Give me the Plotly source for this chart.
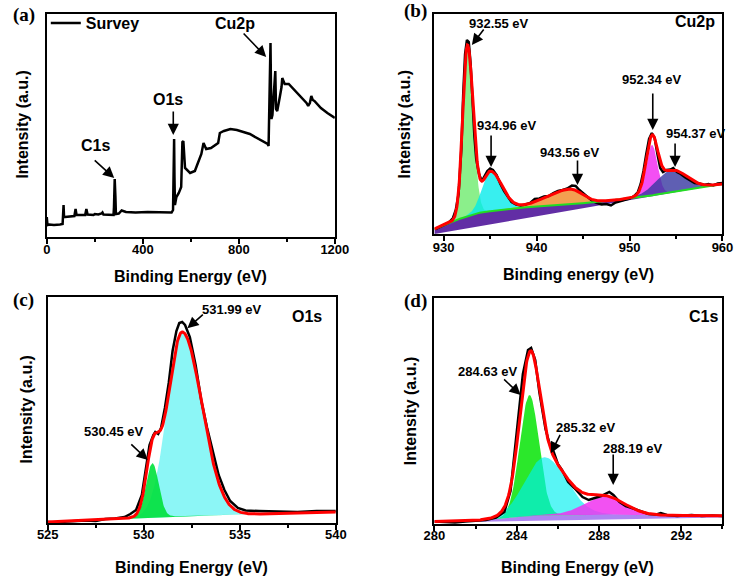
import numpy as np
import plotly.graph_objects as go

FONT = "Liberation Sans, Arial, Helvetica, sans-serif"
SERIF = "Liberation Serif, Times New Roman, serif"

# ---------------- (a) Survey spectrum ----------------
survey_ev = [0, 3, 10, 30, 55, 66, 70, 72, 76, 100, 115, 120, 124, 160, 165, 170, 195, 200,
             215, 228, 232, 236, 260, 278, 280, 283, 286, 288, 300, 312, 330, 370, 420, 470,
             520, 526, 529, 530.5, 532, 534, 540, 550, 560, 565, 569, 573, 576, 597, 617,
             628, 634, 644, 653, 664, 684, 705, 714, 721, 738, 765, 792, 846, 886, 920, 924,
             927, 929, 932, 934, 936, 940, 945, 950, 952, 955, 960, 970, 978, 981, 991, 1008,
             1035, 1062, 1082, 1089, 1096, 1102, 1108, 1115, 1142, 1169, 1200]
survey_int = [20, 12, 12.5, 12, 12.5, 13, 32, 20, 20, 20.5, 21, 28, 22, 22, 28, 22.5, 22, 23,
              22.5, 23.5, 24.5, 22.5, 22.5, 22, 30, 58, 40, 23, 23.5, 26.5, 25, 24.5, 25, 24.5,
              24.5, 27, 60, 98, 60, 32, 40, 44, 50, 95, 96, 70, 69, 64, 66,
              73, 77, 83, 94, 88, 89, 93, 94, 104, 106, 108, 107, 103, 98, 93, 91,
              130, 170, 194, 150, 118, 122, 140, 160, 166, 128, 126, 139, 150, 159, 153, 153,
              146, 139, 134, 131, 134, 141, 137, 136, 129, 124, 119]

# ---------------- (b) Cu2p ----------------
cu_raw_ev = [929.1, 929.5, 930, 930.5, 931, 931.3, 931.6, 931.9, 932.1, 932.3, 932.5, 932.7,
             932.9, 933.1, 933.3, 933.5, 933.8, 934.1, 934.4, 934.7, 935.0, 935.3, 935.7,
             936.1, 936.5, 936.9, 937.3, 937.8, 938.3, 938.8, 939.3, 939.8, 940.3, 940.8,
             941.3, 941.8, 942.3, 942.8, 943.3, 943.8, 944.2, 944.6, 945.0, 945.5, 946.0,
             946.5, 947.0, 947.5, 948.0, 948.5, 949.0, 949.5, 950.0, 950.5, 950.9, 951.2,
             951.5, 951.8, 952.1, 952.4, 952.7, 953.0, 953.3, 953.6, 954.0, 954.4, 954.7,
             955.1, 955.5, 956.0, 956.5, 957.0, 957.5, 958.0, 958.5, 959.0, 959.5, 960.0]
cu_raw_int = [5, 6.5, 8.5, 11, 16, 24, 40, 85, 140, 180, 194, 192,
              170, 130, 98, 75, 60, 53, 58, 63, 65.5, 64, 59,
              50, 43, 37, 32, 29.5, 28.5, 29.5, 31, 35, 35.5, 37.5,
              38, 41, 43, 44, 45.5, 48.5, 48, 44, 41, 37, 33,
              31, 29.5, 30, 28.5, 31.5, 33, 34, 35.5, 38, 42, 50,
              63, 80, 95, 101, 96, 80, 66, 62, 64, 64.5, 66,
              62, 60, 56.5, 54, 51, 50.5, 49, 50, 48.5, 50.5, 51]
cu_bg_ev = [929, 930, 931, 932, 932.5, 933, 934, 936, 938, 940, 943, 946, 948, 950, 952, 954, 956, 958, 960]
cu_bg_int = [5, 9, 13, 16, 18, 19.5, 21.5, 24, 26, 27.5, 29.5, 31.5, 33.5, 35.5, 38, 41, 44, 47, 50]
cu_base_ev = [929, 960]
cu_base_int = [0, 50]
cu_peak_ev = [932.55, 935.0, 943.56, 952.4, 954.5]
cu_peak_height = [170, 40, 15, 50.5, 22]
cu_sigma_left = [0.5, 0.88, 2.5, 0.6, 1.65]
cu_sigma_right = [0.62, 1.25, 1.35, 0.6, 1.65]
cu_colors = ["rgba(110,235,110,0.8)", "rgba(0,235,235,0.78)", "rgba(243,160,80,1.0)",
             "rgba(240,40,240,0.82)", "rgba(55,55,160,0.8)"]
cu_labels = ["932.55 eV", "934.96 eV", "943.56 eV", "952.34 eV", "954.37 eV"]

# ---------------- (c) O1s ----------------
o_raw_ev = [525.0, 525.5, 526, 526.5, 527, 527.5, 528, 528.5, 529, 529.3, 529.6, 529.9, 530.1,
            530.3, 530.5, 530.6, 530.75, 530.9, 531.1, 531.3, 531.5, 531.7, 531.85, 532.0,
            532.15, 532.4, 532.7, 533.0, 533.3, 533.6, 533.9, 534.2, 534.5, 534.9, 535.3,
            536, 537, 538, 539, 540]
o_raw_int = [1, 0.5, 1.5, 2, 2.5, 2, 4, 4.5, 6, 9, 13, 28, 55,
             78, 88, 91, 89, 95, 115, 140, 172, 192, 200, 201,
             198, 186, 158, 122, 95, 70, 48, 33, 22, 15, 12.5,
             12, 11.5, 11, 12, 12]
o_bg_ev = [525, 527, 529, 530, 531, 532, 533, 534, 535, 537, 540]
o_bg_int = [1.0, 2.5, 4.5, 5.5, 6.2, 7.0, 7.5, 8.0, 8.5, 9.5, 11.0]
o_peak_ev = [532.0, 530.45]
o_peak_height = [184, 54]
o_sigma_left = [0.77, 0.33]
o_sigma_right = [1.02, 0.33]
o_colors = ["rgba(0,235,235,0.45)", "rgba(0,225,60,0.9)"]

# ---------------- (d) C1s ----------------
c_raw_ev = [280.0, 280.5, 281.0, 281.5, 282.0, 282.5, 283.0, 283.4, 283.7, 284.0, 284.3, 284.55,
            284.7, 284.9, 285.1, 285.4, 285.6, 285.8, 286.0, 286.2, 286.5, 286.8, 287.0, 287.2,
            287.5, 287.8, 288.1, 288.5, 288.7, 289.0, 289.3, 289.6, 290.0, 290.4, 290.8, 291.0,
            291.3, 291.8, 292.5, 293.0, 293.5, 294.0]
c_raw_int = [2.5, 2.0, 1.5, 2.5, 3.0, 4.0, 6.5, 12, 33, 90, 150, 174,
             176, 164, 132, 95, 80, 72, 60, 54, 42, 36, 32, 27,
             24, 26, 28, 32, 29, 22, 18, 16, 13, 10, 9.5, 11,
             9, 8, 9, 8, 8.5, 8]
c_bg_ev = [280, 282, 283, 284, 285, 286, 288, 290, 292, 294]
c_bg_int = [2.5, 3.5, 5, 7, 8.5, 9, 9.5, 9, 8.5, 8.3]
c_base_ev = [280, 294]
c_base_int = [1.5, 6.5]
c_peak_ev = [284.62, 285.35, 288.3]
c_peak_height = [121, 58, 18]
c_sigma_left = [0.47, 0.95, 1.0]
c_sigma_right = [0.46, 1.05, 0.95]
c_colors = ["rgba(20,230,20,0.9)", "rgba(0,240,240,0.65)", "rgba(240,50,240,0.85)"]


def asym_gauss(x, c, h, sl, sr):
    s = np.where(x < c, sl, sr)
    return h * np.exp(-((x - c) ** 2) / (2.0 * s ** 2))


fig = go.Figure()

# (a)
fig.add_trace(go.Scatter(x=survey_ev, y=survey_int, mode="lines", name="Survey",
                         line=dict(color="black", width=2.5), xaxis="x", yaxis="y",
                         showlegend=True, hoverinfo="skip"))


def fit_panel(xa, ya, grid, bg_ev, bg_int, base_ev, base_int, base_color,
              peaks, heights, sls, srs, colors, raw_ev, raw_int, bg_line=None):
    bg = np.interp(grid, bg_ev, bg_int)
    comps = [asym_gauss(grid, c, h, a, b) for c, h, a, b in zip(peaks, heights, sls, srs)]
    if base_ev is not None:
        low = np.interp(grid, base_ev, base_int)
        fig.add_trace(go.Scatter(x=grid, y=low, mode="lines", line=dict(width=0),
                                 xaxis=xa, yaxis=ya, showlegend=False, hoverinfo="skip"))
        fig.add_trace(go.Scatter(x=grid, y=bg, mode="lines", line=dict(width=0),
                                 fill="tonexty", fillcolor=base_color,
                                 xaxis=xa, yaxis=ya, showlegend=False, hoverinfo="skip"))
    for comp, col in zip(comps, colors):
        fig.add_trace(go.Scatter(x=grid, y=bg, mode="lines", line=dict(width=0),
                                 xaxis=xa, yaxis=ya, showlegend=False, hoverinfo="skip"))
        fig.add_trace(go.Scatter(x=grid, y=bg + comp, mode="lines", line=dict(width=0),
                                 fill="tonexty", fillcolor=col,
                                 xaxis=xa, yaxis=ya, showlegend=False, hoverinfo="skip"))
    fig.add_trace(go.Scatter(x=raw_ev, y=raw_int, mode="lines", line=dict(color="black", width=2.5),
                             xaxis=xa, yaxis=ya, showlegend=False, hoverinfo="skip"))
    if bg_line:
        fig.add_trace(go.Scatter(x=grid, y=bg, mode="lines", line=dict(color=bg_line, width=2),
                                 xaxis=xa, yaxis=ya, showlegend=False, hoverinfo="skip"))
    env = bg + np.sum(comps, axis=0)
    fig.add_trace(go.Scatter(x=grid, y=env, mode="lines", line=dict(color="#ff0000", width=3),
                             xaxis=xa, yaxis=ya, showlegend=False, hoverinfo="skip"))


fit_panel("x2", "y2", np.linspace(929, 960, 621), cu_bg_ev, cu_bg_int, cu_base_ev, cu_base_int,
          "rgba(90,35,160,0.95)", cu_peak_ev, cu_peak_height, cu_sigma_left, cu_sigma_right,
          cu_colors, cu_raw_ev, cu_raw_int, bg_line="#22dd22")
fit_panel("x3", "y3", np.linspace(525, 540, 601), o_bg_ev, o_bg_int, None, None, None,
          o_peak_ev, o_peak_height, o_sigma_left, o_sigma_right, o_colors, o_raw_ev, o_raw_int)
fit_panel("x4", "y4", np.linspace(280, 294, 561), c_bg_ev, c_bg_int, c_base_ev, c_base_int,
          "rgba(160,110,240,0.85)", c_peak_ev, c_peak_height, c_sigma_left, c_sigma_right,
          c_colors, c_raw_ev, c_raw_int)

W, H = 750, 577


def px_x(p):
    return p / W


def px_y(p):
    return 1 - p / H


def xax(domain, rng, dtick, tick0, minor, standoff):
    return dict(domain=domain, range=rng, dtick=dtick, tick0=tick0, showgrid=False, zeroline=False,
                showline=True, mirror=True, linecolor="black", linewidth=2,
                ticks="outside", ticklen=5, tickwidth=2, tickcolor="black",
                ticklabelstandoff=standoff,
                minor=dict(ticks="outside", ticklen=3, tickwidth=1.5, dtick=minor, tickcolor="black"),
                tickfont=dict(family=FONT, size=13, color="black", weight="bold"))


def yax(domain, rng, anchor):
    return dict(domain=domain, range=rng, showgrid=False, zeroline=False, showticklabels=False,
                ticks="", showline=True, mirror=True, linecolor="black", linewidth=2, anchor=anchor)


layout = dict(
    width=W, height=H, margin=dict(l=0, r=0, t=0, b=0),
    paper_bgcolor="white", plot_bgcolor="white",
    xaxis=xax([px_x(37), px_x(335)], [0, 1200], 400, 0, 200, -6) | dict(anchor="y"),
    yaxis=yax([px_y(237), px_y(14)], [0, 223], "x"),
    xaxis2=xax([px_x(438), px_x(736)], [929, 960], 10, 930, 5, -5) | dict(anchor="y2"),
    yaxis2=yax([px_y(234), px_y(14)], [0, 220], "x2"),
    xaxis3=xax([px_x(38), px_x(336)], [525, 540], 5, 525, 2.5, -7) | dict(anchor="y3"),
    yaxis3=yax([px_y(523), px_y(297)], [0, 226], "x3"),
    xaxis4=xax([px_x(438), px_x(736)], [280, 294], 4, 280, 2, -7) | dict(anchor="y4"),
    yaxis4=yax([px_y(524), px_y(298)], [0, 226], "x4"),
    legend=dict(x=px_x(36), y=px_y(23), xanchor="left", yanchor="middle",
                bgcolor="rgba(0,0,0,0)", borderwidth=0, itemwidth=30,
                font=dict(family=FONT, size=16, color="black", weight="bold")),
    showlegend=True,
)
fig.update_layout(**layout)

ann = []


def text(x, y, s, size=13, xref="paper", yref="paper", xanchor="center", angle=0, family=FONT):
    ann.append(dict(x=x, y=y, xref=xref, yref=yref, text="<b>%s</b>" % s, showarrow=False,
                    xanchor=xanchor, yanchor="middle", textangle=angle,
                    font=dict(family=family, size=size, color="black")))


def arrow(x, y, ax, ay, xr, yr):
    ann.append(dict(x=x, y=y, xref=xr, yref=yr, ax=ax, ay=ay, text="", showarrow=True,
                    arrowhead=2, arrowsize=1.4, arrowwidth=1.6, arrowcolor="black",
                    standoff=0, startstandoff=0))


# panel letters
for lbl, (px, py) in zip(["(a)", "(b)", "(c)", "(d)"], [(13, 15), (418, 11), (13, 300), (418, 301)]):
    text(px_x(px), px_y(py), lbl, size=19, family=SERIF)

# axis titles
for cx, cy, s in [(186, 276, "Binding Energy (eV)"), (587, 274, "Binding energy (eV)"),
                  (187, 567, "Binding Energy (eV)"), (586, 567, "Binding Energy (eV)")]:
    text(px_x(cx), px_y(cy), s, size=16)
for cx, cy in [(12, 125), (408, 124), (15, 410), (413, 411)]:
    text(px_x(cx), px_y(cy), "Intensity (a.u.)", size=16, angle=-90)

# (a) annotations
text(205, 92, "C1s", 16, "x", "y"); arrow(281, 59, -21, -19, "x", "y")
text(507, 138, "O1s", 16, "x", "y"); arrow(527, 102, 0, -25, "x", "y")
text(785, 214, "Cu2p", 16, "x", "y"); arrow(914, 180, -24, -25, "x", "y")

# (b) annotations
b_text_pos = [(936.0, 211), (936.8, 109), (943.6, 82), (952.4, 155), (957.2, 101)]
b_arrow = [(933.03, 189, 13, -17), (935.1, 67, 0, -33), (944.4, 49, 0, -26),
           (952.5, 104, 0, -38), (954.9, 67, 0, -25)]
for (tx, ty), s, (ax_, ay_, dx, dy) in zip(b_text_pos, cu_labels, b_arrow):
    text(tx, ty, s, 13, "x2", "y2")
    arrow(ax_, ay_, dx, dy, "x2", "y2")
text(959.4, 213, "Cu2p", 16, "x2", "y2", xanchor="right")

# (c) annotations
text(534.57, 214, "531.99 eV", 13, "x3", "y3"); arrow(532.27, 194.7, 17, -15, "x3", "y3")
text(528.45, 91.3, "530.45 eV", 13, "x3", "y3"); arrow(530.21, 63, -18, -17, "x3", "y3")
text(538.5, 207, "O1s", 16, "x3", "y3")

# (d) annotations
text(282.6, 153, "284.63 eV", 13, "x4", "y4"); arrow(284.19, 129, -18, -17, "x4", "y4")
text(287.35, 96.3, "285.32 eV", 13, "x4", "y4"); arrow(285.66, 70.7, 10, -20, "x4", "y4")
text(289.64, 75.7, "288.19 eV", 13, "x4", "y4"); arrow(288.69, 39, 0, -32, "x4", "y4")
text(293.1, 208, "C1s", 16, "x4", "y4")

fig.update_layout(annotations=ann)
fig.write_html("out.html")
